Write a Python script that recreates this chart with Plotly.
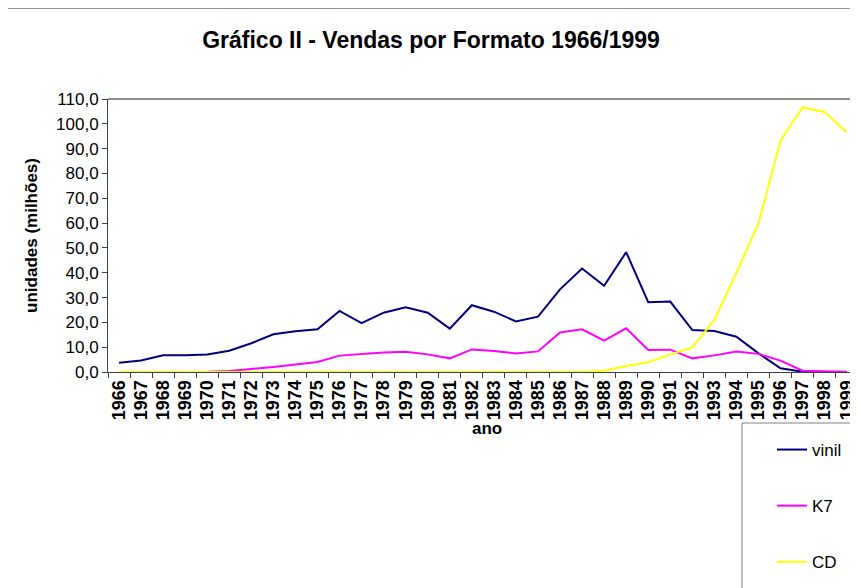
import plotly.graph_objects as go

anos = [str(a) for a in range(1966, 2000)]
vinil = [3.7, 4.6, 6.7, 6.7, 7.1, 8.6, 11.6, 15.2, 16.4, 17.2, 24.6, 19.7, 23.9, 26.1, 23.9, 17.5, 26.9, 24.3,
         20.4, 22.3, 33.3, 41.7, 34.7, 48.3, 28.1, 28.4, 16.9, 16.5, 14.2, 7.5, 1.5, 0.1, 0.0, 0.0]
k7 = [0.0, 0.0, 0.0, 0.0, 0.1, 0.4, 1.1, 2.0, 3.0, 4.0, 6.6, 7.3, 7.9, 8.2, 7.1, 5.5, 9.1, 8.5,
      7.5, 8.3, 15.9, 17.2, 12.6, 17.6, 8.9, 9.0, 5.5, 6.7, 8.3, 7.3, 4.6, 0.5, 0.2, 0.1]
cd = [0.0, 0.0, 0.0, 0.0, 0.0, 0.0, 0.0, 0.0, 0.0, 0.0, 0.0, 0.0, 0.0, 0.0, 0.0, 0.0, 0.0, 0.0,
      0.0, 0.0, 0.0, 0.0, 0.5, 2.4, 3.9, 7.1, 9.9, 21.0, 40.0, 59.9, 93.3, 106.6, 104.8, 96.6]

FONT = "Liberation Sans, Arial, sans-serif"
OFF = 8  # page body margin
W, H = 858 - OFF, 588 - OFF
L, T = 108 - OFF, 99 - OFF
BOT = 372 - OFF
R, B = 0, H - BOT
pw, ph = W - L - R, H - T - B


def px(x):  # reference page x -> paper x
    return (x - OFF - L) / pw


def py(y):  # reference page y -> paper y
    return (BOT - (y - OFF)) / ph


fig = go.Figure()
for name, vals, col, grp in [("vinil", vinil, "#000080", "a"), ("K7", k7, "#FF00FF", "b"), ("CD", cd, "#FFFF00", "c")]:
    fig.add_trace(go.Scatter(x=anos, y=vals, name=name, mode="lines",
                             line=dict(color=col, width=2), legendgroup=grp))

cat_w = 22.05
x_end = -0.5 + pw / cat_w

fig.update_layout(
    width=W, height=H,
    margin=dict(l=L, r=R, t=T, b=B, autoexpand=False),
    paper_bgcolor="white", plot_bgcolor="white",
    separators=",.",
    font=dict(family=FONT, color="black"),
    title=dict(text="<b>Gráfico II - Vendas por Formato 1966/1999</b>",
               x=(431 - OFF) / W, xref="container", xanchor="center",
               y=1 - (40 - OFF) / H, yref="container", yanchor="middle",
               font=dict(size=23, family=FONT, color="black")),
    xaxis=dict(type="category", range=[-0.5, x_end], tickson="boundaries",
               tickmode="array", tickvals=anos, ticktext=anos,
               ticks="outside", ticklen=5, tickcolor="#404040", tickangle=-90,
               showline=True, linecolor="#404040", linewidth=1, showgrid=False,
               layer="below traces",
               tickfont=dict(size=18, family=FONT, color="black", weight="bold"),
               fixedrange=True),
    yaxis=dict(range=[0, 110], dtick=10, tickformat=".1f", ticks="outside", ticklen=5,
               tickcolor="#404040", showline=True, linecolor="#404040", linewidth=1,
               showgrid=False, zeroline=False, layer="below traces",
               tickfont=dict(size=17, family=FONT, color="black"),
               title=dict(text="<b>unidades (milhões)</b>", font=dict(size=17, family=FONT, color="black"), standoff=14),
               fixedrange=True),
    legend=dict(x=px(772), xanchor="left", y=py(432), yanchor="top",
                bgcolor="rgba(0,0,0,0)", borderwidth=0, tracegroupgap=31,
                font=dict(size=17, family=FONT, color="black")),
    showlegend=True,
)

fig.add_annotation(text="<b>ano</b>", xref="paper", yref="paper", x=px(487), y=py(428),
                   xanchor="center", yanchor="middle", showarrow=False,
                   font=dict(size=17, family=FONT, color="black"))

# top border of plot area
fig.add_shape(type="line", xref="paper", yref="paper", x0=0, x1=1.02, y0=1, y1=1,
              line=dict(color="#909090", width=2), layer="below")
# horizontal rule at top of page
fig.add_shape(type="line", xref="paper", yref="paper", x0=px(0), x1=1.02,
              y0=py(8), y1=py(8), line=dict(color="#202020", width=1))
# legend box (extends beyond page edges)
fig.add_shape(type="rect", xref="paper", yref="paper", x0=px(742), x1=1.1,
              y0=py(423), y1=py(620),
              line=dict(color="#808080", width=1), fillcolor="rgba(0,0,0,0)")

fig.write_html("out.html")
